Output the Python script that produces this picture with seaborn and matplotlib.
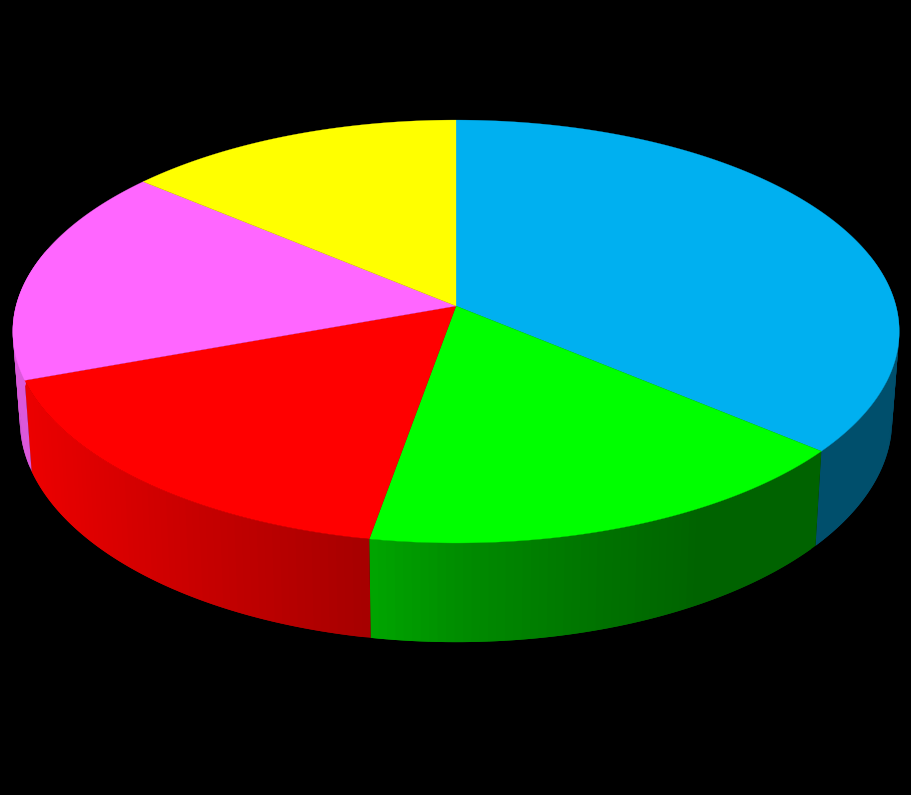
import numpy as np
import matplotlib
matplotlib.use('Agg')
import matplotlib.pyplot as plt
import seaborn as sns

# slice sizes, clockwise from 12 o'clock
slices = ['Blue', 'Green', 'Red', 'Magenta', 'Yellow']
values = [130, 60, 60, 60, 50]
colors = ['#00B0F0', '#00FF00', '#FF0000', '#FF66FF', '#FFFF00']

sns.set_style('white')
palette = sns.color_palette(colors)

# perspective of the disc, in pixels
cx, cy = 456, 306
a, b, k = 440.0, 208.4, 0.1206


def project(theta):
    u = np.sin(theta)
    v = -np.cos(theta)
    return cx + a * u / (1 - k * v), cy + b * v / (1 - k * v)


def lower(x, y):
    # rim of the bottom face
    return cx + (x - cx) * 0.984, y * 1.05 + 72


def shade(x):
    # side wall gets darker from left to right
    return np.interp(x, [20, 200, 369, 460, 600, 700, 895],
                     [0.93, 0.78, 0.65, 0.55, 0.45, 0.39, 0.39])


fig = plt.figure(figsize=(9.11, 7.95), dpi=100, facecolor='black')
ax = fig.add_axes([0, 0, 1, 1])
ax.set_xlim(0, 911)
ax.set_ylim(795, 0)
ax.axis('off')

edges = np.radians(np.concatenate([[0], np.cumsum(values)]) * 360 / np.sum(values))

# side walls first, each strip runs under the next one so no seams show
for i, color in enumerate(palette):
    t = np.linspace(edges[i], edges[i + 1], int(values[i]) + 2)
    x, y = project(t)
    x2, y2 = lower(x, y)
    for j in range(len(t) - 1):
        if np.cos(t[j]) > 0.25 and np.cos(t[j + 1]) > 0.25:
            continue
        if i == 0:
            s = 0.45
        elif i == 3:
            s = 0.86
        else:
            s = shade((x[j] + x[j + 1]) / 2)
        c = tuple(np.array(color) * s)
        n = min(j + 2, len(t) - 1)
        px = np.r_[x[j:n + 1], x2[j:n + 1][::-1]]
        py = np.r_[y[j:n + 1], y2[j:n + 1][::-1]]
        ax.fill(px, py, color=c, lw=0, zorder=2)

# top faces
for i, color in enumerate(palette):
    t = np.linspace(edges[i], edges[i + 1], 200)
    x, y = project(t)
    ax.fill(np.r_[cx, x], np.r_[cy, y], color=color, lw=0.2, zorder=3)

fig.savefig('out.png', dpi=100, facecolor='black')
